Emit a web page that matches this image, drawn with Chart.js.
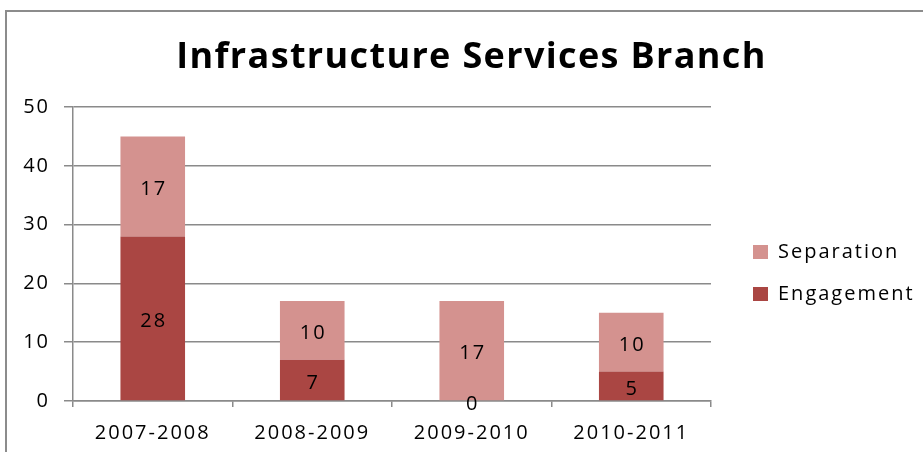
<!DOCTYPE html>
<html>
<head>
<meta charset="utf-8">
<script src="https://cdn.jsdelivr.net/npm/chart.js@4/dist/chart.umd.min.js"></script>
<style>
    html, body { margin: 0; padding: 0; background: #fff; overflow: hidden; }
    #wrap { position: relative; width: 923px; height: 452px; }
    #frame {
        position: absolute; left: 5px; top: 10px; width: 1000px; height: 600px;
        border-left: 2px solid #8c8c8c; border-top: 2px solid #8c8c8c;
    }
    canvas { position: absolute; left: 0; top: 0; }
</style>
</head>
<body>
<div id="wrap">
    <div id="frame"></div>
    <canvas id="myChart" width="923" height="452"></canvas>
</div>
<script>
// Staff movement per financial year
const years = ['2007-2008', '2008-2009', '2009-2010', '2010-2011'];
const engagement = [28, 7, 0, 5];
const separation = [17, 10, 17, 10];
const yTicks = [0, 10, 20, 30, 40, 50];

const FONT = '"Open Sans", sans-serif';
const GRID = '#8a8a8a';
const LETTER_SPACING = '2px';

// wide letter spacing for axis, legend and value text
const spacing = {
    id: 'spacing',
    afterInit(chart) {
        const title = chart.titleBlock;
        const drawTitle = title.draw;
        title.draw = function () {
            this.ctx.save();
            this.ctx.letterSpacing = '1.35px';
            drawTitle.apply(this, arguments);
            this.ctx.restore();
        };
        const legend = chart.legend;
        const fitLegend = legend.fit;
        legend.fit = function () {
            fitLegend.apply(this, arguments);
            this.width = 212;
        };
    },
    beforeUpdate(chart) { chart.ctx.letterSpacing = LETTER_SPACING; },
    afterLayout(chart) {
        const legend = chart.legend;
        legend.left += 20; legend.right += 20;
        legend.top += 47; legend.bottom += 47;
    },
    beforeDraw(chart) { chart.ctx.letterSpacing = LETTER_SPACING; }
};

// value printed in the middle of every bar segment
const segmentLabels = {
    id: 'segmentLabels',
    afterDatasetsDraw(chart) {
        const ctx = chart.ctx;
        ctx.save();
        ctx.font = '20px ' + FONT;
        ctx.fillStyle = '#000';
        ctx.textAlign = 'center';
        ctx.textBaseline = 'middle';
        chart.data.datasets.forEach((ds, i) => {
            chart.getDatasetMeta(i).data.forEach((bar, j) => {
                const y = (bar.y + bar.base) / 2 + 3;
                ctx.fillText(String(ds.data[j]), bar.x + 1, y);
            });
        });
        ctx.restore();
    }
};

const ctx = document.getElementById('myChart').getContext('2d');

const data = {
    labels: years,
    datasets: [{
        label: 'Engagement',
        data: engagement,
        backgroundColor: '#AA4643',
        barPercentage: 0.405,
        categoryPercentage: 1
    }, {
        label: 'Separation',
        data: separation,
        backgroundColor: '#D4928F',
        barPercentage: 0.405,
        categoryPercentage: 1
    }]
};

const config = {
    type: 'bar',
    data: data,
    options: {
        responsive: false,
        animation: false,
        layout: { padding: { left: 20, right: 0, top: 0, bottom: 0 } },
        scales: {
            x: {
                stacked: true,
                grid: { drawOnChartArea: false, drawTicks: true, tickLength: 6, color: GRID, lineWidth: 1.5 },
                border: { color: GRID, width: 1.5 },
                ticks: { color: '#000', font: { family: FONT, size: 20 }, padding: 14, maxRotation: 0 },
                afterFit(scale) { scale.height = 51; }
            },
            y: {
                stacked: true,
                min: 0,
                max: 50,
                afterBuildTicks(scale) { scale.ticks = yTicks.map(v => ({ value: v })); },
                grid: { color: GRID, lineWidth: 1.5, tickLength: 9 },
                border: { color: GRID, width: 1.5 },
                ticks: { color: '#000', font: { family: FONT, size: 20 }, padding: 14 },
                afterFit(scale) { scale.width = 53; }
            }
        },
        plugins: {
            title: {
                display: true,
                text: 'Infrastructure Services Branch',
                color: '#000',
                font: { family: FONT, size: 36, weight: 'bold' },
                padding: { top: 36, bottom: 28 }
            },
            legend: {
                position: 'right',
                reverse: true,
                labels: {
                    color: '#000',
                    font: { family: FONT, size: 20 },
                    boxWidth: 15,
                    boxHeight: 14,
                    padding: 22
                }
            },
            tooltip: { enabled: false }
        }
    },
    plugins: [spacing, segmentLabels]
};

const myChart = new Chart(ctx, config);
</script>
</body>
</html>
